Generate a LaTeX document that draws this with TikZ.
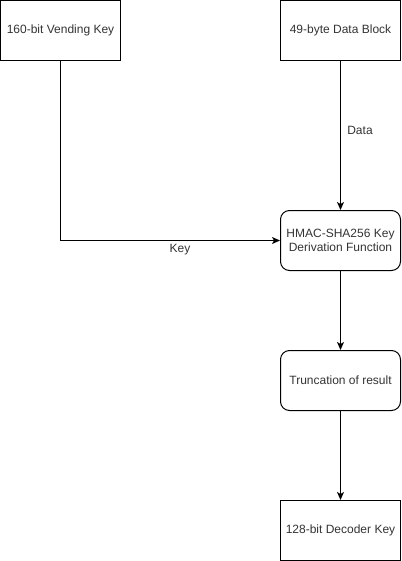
\documentclass[tikz,border=0pt]{standalone}
\usepackage{fontspec}
\setmainfont{Liberation Sans}
\usetikzlibrary{arrows.meta}
\begin{document}
\begin{tikzpicture}[x=1pt,y=-1pt,
  box/.style={draw=black,line width=1pt,minimum width=120pt,minimum height=60pt,inner sep=2pt,align=center,font=\fontsize{12}{14}\selectfont,text=black!80},
  rbox/.style={box,rounded corners=9pt},
  conn/.style={line width=1pt,-{Stealth[length=8pt,width=7pt,inset=2pt]}},
  lbl/.style={font=\fontsize{12}{14}\selectfont,text=black!80,fill=white,inner sep=1pt}]
\useasboundingbox (0,0) rectangle (401,561);
\node[box] (vk) at (60.5,30.5) {160-bit Vending Key};
\node[box] (db) at (340.5,30.5) {49-byte Data Block};
\node[rbox] (hm) at (340.5,240.5) {HMAC-SHA256 Key\\Derivation Function};
\node[rbox] (tr) at (340.5,380.5) {Truncation of result};
\node[box] (dk) at (340.5,530.5) {128-bit Decoder Key};
\draw[conn] (vk.south) |- (hm.west);
\draw[conn] (db.south) -- (hm.north);
\draw[conn] (hm.south) -- (tr.north);
\draw[conn] (tr.south) -- (dk.north);
\node[lbl] (lk) at (180,250) {Key};
\node[lbl] (ld) at (360,130) {Data};
\end{tikzpicture}
\end{document}
